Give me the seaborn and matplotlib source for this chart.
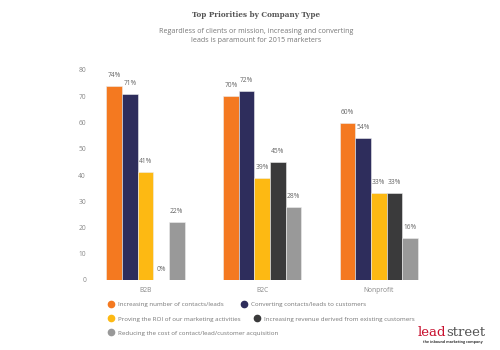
import matplotlib
matplotlib.use("Agg")
import matplotlib.pyplot as plt
from matplotlib.lines import Line2D
import pandas as pd
import seaborn as sns

company_types = ["B2B", "B2C", "Nonprofit"]
priorities = ["Increasing number of contacts/leads",
              "Converting contacts/leads to customers",
              "Proving the ROI of our marketing activities",
              "Increasing revenue derived from existing customers",
              "Reducing the cost of contact/lead/customer acquisition"]
increasing_leads = [74, 70, 60]
converting_leads = [71, 72, 54]
proving_roi = [41, 39, 33]
increasing_revenue = [0, 45, 33]
reducing_cost = [22, 28, 16]
colors = ["#F47920", "#2E2D5C", "#FDB913", "#3A3A3B", "#999999"]

series = [increasing_leads, converting_leads, proving_roi, increasing_revenue, reducing_cost]
rows = []
for p, vals in zip(priorities, series):
    for c, v in zip(company_types, vals):
        rows.append({"type": c, "priority": p, "value": v})
df = pd.DataFrame(rows)

sns.set_style("white")
plt.rcParams["font.family"] = ["Open Sans", "DejaVu Sans"]

fig = plt.figure(figsize=(5, 3.5), dpi=100)
ax = fig.add_axes([0.186, 0.2, 0.688, 0.6])
sns.barplot(data=df, x="type", y="value", hue="priority", hue_order=priorities,
            palette=colors, saturation=1, width=0.67, gap=0, ax=ax, legend=False,
            edgecolor="#eeeeee", linewidth=0.4)

for cont in ax.containers:
    ax.bar_label(cont, labels=[f"{v:.0f}%" for v in cont.datavalues],
                 padding=5, fontsize=4.8, color="#666666")

ax.set_ylim(0, 80)
ax.set_xlim(-0.45, 2.5)
ax.set_yticks(range(0, 81, 10))
ax.set_xlabel("")
ax.set_ylabel("")
ax.tick_params(axis="both", labelsize=4.8, colors="#888888", length=0, pad=5)
sns.despine(ax=ax, left=True, bottom=True)

fig.text(0.512, 0.957, "Top Priorities by Company Type", ha="center", va="center",
         fontsize=5.2, fontweight="bold", color="#555555", family="DejaVu Serif")
fig.text(0.512, 0.91, "Regardless of clients or mission, increasing and converting",
         ha="center", va="center", fontsize=5.1, color="#777777")
fig.text(0.512, 0.883, "leads is paramount for 2015 marketers",
         ha="center", va="center", fontsize=5.1, color="#777777")

# legend rows laid out like the original (flowing, one legend per row)
legend_rows = [[0, 1], [2, 3], [4]]
row_y = [0.131, 0.089, 0.049]
row_spacing = [2.7, 2.1, 1.6]
for idx, y, cs in zip(legend_rows, row_y, row_spacing):
    handles = [Line2D([], [], marker="o", linestyle="", markersize=4.5,
                      markerfacecolor=colors[i], markeredgecolor=colors[i]) for i in idx]
    leg = fig.legend(handles, [priorities[i] for i in idx], loc="center left",
                     bbox_to_anchor=(0.216, y), ncol=len(idx), frameon=False,
                     fontsize=4.5, handletextpad=0.6, columnspacing=cs,
                     handlelength=1.0, borderpad=0, borderaxespad=0)
    for t in leg.get_texts():
        t.set_color("#777777")

lead = fig.text(0.836, 0.04, "lead", ha="left", va="baseline", fontsize=9.5,
                color="#C8102E", family="DejaVu Serif")
ax.annotate("street", xy=(1, 0), xycoords=lead, ha="left", va="bottom",
            fontsize=9.5, color="#555555", family="DejaVu Serif",
            annotation_clip=False)
fig.text(0.905, 0.022, "the inbound marketing company", ha="center", va="center",
         fontsize=2.6, color="#333333", fontweight="bold")

fig.savefig("out.png", dpi=100, facecolor="white")
